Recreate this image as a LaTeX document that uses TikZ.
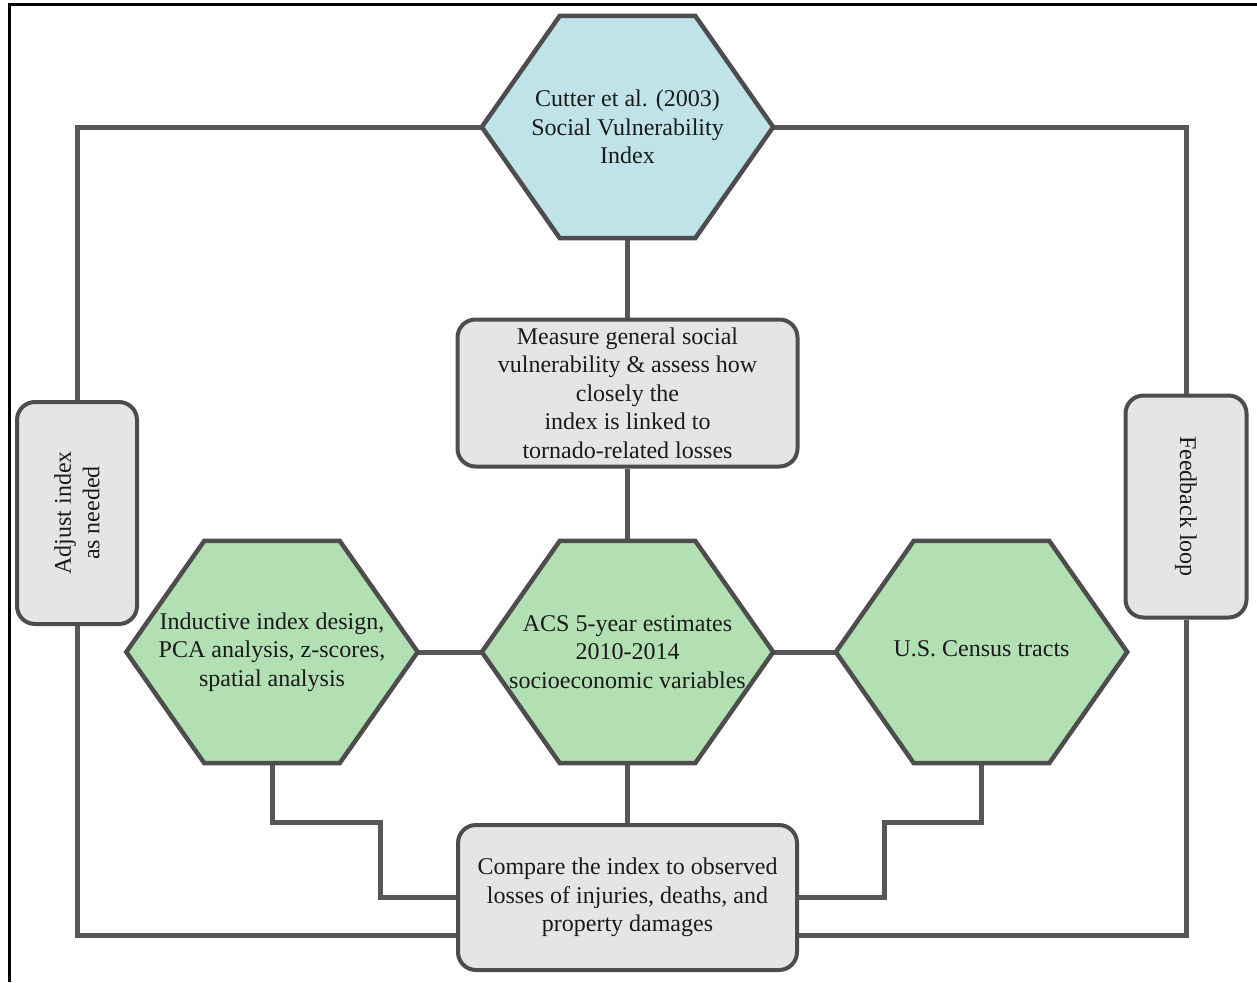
\documentclass[tikz,border=0pt]{standalone}
\usepackage{fontspec}
\setmainfont{Liberation Serif}
\usetikzlibrary{backgrounds}
\definecolor{hexblue}{HTML}{BFE3E8}
\definecolor{hexgreen}{HTML}{B3E0B3}
\definecolor{boxgray}{HTML}{E5E5E5}
\definecolor{edgegray}{HTML}{4D4D4D}
\definecolor{linegray}{HTML}{575757}
\definecolor{txt}{HTML}{1A1A1A}
\newcommand\drawhexagon[2]{%
  \path[hexedge, fill=#2] (#1.west) -- ([xshift=78pt]#1.north west) -- ([xshift=-78pt]#1.north east)
    -- (#1.east) -- ([xshift=-78pt]#1.south east) -- ([xshift=78pt]#1.south west) -- cycle;}
\begin{document}
\begin{tikzpicture}[x=1pt,y=-1pt,
  hexnode/.style={rectangle, minimum width=291pt, minimum height=222pt, inner sep=0pt,
    align=center, font=\fontsize{24}{28.5}\selectfont, text=txt},
  roundbox/.style={rectangle, rounded corners=18pt, draw=edgegray, line width=4pt,
    fill=boxgray, inner sep=0pt, align=center, font=\fontsize{24}{28.5}\selectfont, text=txt},
  link/.style={draw=linegray, line width=5pt},
  hexedge/.style={draw=edgegray, line width=4.5pt, line join=miter},
  frameline/.style={draw=black, line width=3pt}
]
\useasboundingbox (0,0) rectangle (1257,982);

% nodes
\node[hexnode] (svi) at (627.5,127) {Cutter et al. (2003)\\Social Vulnerability\\Index};
\node[roundbox, minimum width=340pt, minimum height=147pt] (meas) at (627.5,393)
  {Measure general social\\vulnerability \& assess how\\closely the\\index is linked to\\tornado-related losses};
\node[hexnode] (acs) at (627.5,652) {ACS 5-year estimates\\2010-2014\\socioeconomic variables};
\node[hexnode] (ind) at (272,652) {Inductive index design,\\PCA analysis, z-scores,\\spatial analysis};
\node[hexnode] (cen) at (981.5,652) {\raisebox{7pt}{U.S. Census tracts}};
\node[roundbox, minimum width=339pt, minimum height=145pt] (cmp) at (627.5,897.5)
  {Compare the index to observed\\losses of injuries, deaths, and\\property damages};
\node[roundbox, minimum width=222pt, minimum height=120pt, rotate=90] (adj) at (77,513)
  {Adjust index\\as needed};
\node[roundbox, minimum width=222pt, minimum height=121pt, rotate=-90] (fb) at (1186,506.5)
  {Feedback loop};

\coordinate (lowL) at (0,935);
\coordinate (stepY) at (0,822);
\coordinate (stepL) at (380,0);
\coordinate (stepR) at (884,0);

\begin{scope}[on background layer]
  \fill[white] (0,0) rectangle (1257,982);
  \draw[frameline] (9,982) -- (9,5) -- (1257,5);
  \draw[link] (svi.west) -| (adj);
  \draw[link] (adj) |- (cmp.west |- lowL);
  \draw[link] (svi.east) -| (fb);
  \draw[link] (fb) |- (cmp.east |- lowL);
  \draw[link] (svi.south) -- (meas);
  \draw[link] (meas) -- (acs.north);
  \draw[link] (acs.south) -- (cmp);
  \draw[link] (ind.east) -- (acs.west);
  \draw[link] (acs.east) -- (cen.west);
  \draw[link] (ind.south) |- (stepL |- stepY) |- (cmp.west);
  \draw[link] (cen.south) |- (stepR |- stepY) |- (cmp.east);
  \drawhexagon{svi}{hexblue}
  \drawhexagon{acs}{hexgreen}
  \drawhexagon{ind}{hexgreen}
  \drawhexagon{cen}{hexgreen}
\end{scope}
\end{tikzpicture}
\end{document}
